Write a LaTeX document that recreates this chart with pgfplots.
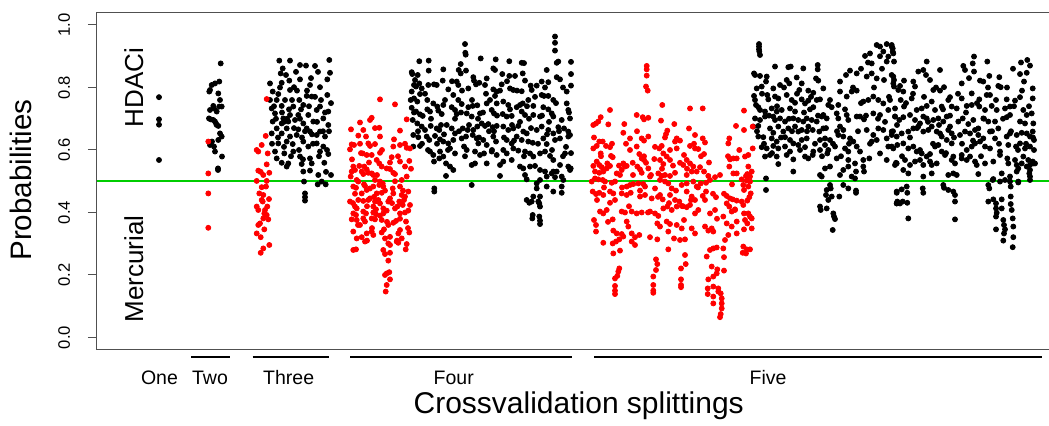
\documentclass[border=0pt]{standalone}
\usepackage{fontspec}
\setmainfont{Liberation Sans}
\usepackage{pgfplots}
\pgfplotsset{compat=1.18}
\definecolor{rgreen}{RGB}{0,205,0}
\definecolor{axgray}{RGB}{80,80,80}
\begin{document}
\begin{tikzpicture}
\useasboundingbox (-48.35pt,-38pt) rectangle (476.15pt,175pt);
\begin{axis}[
 at={(0,0)}, anchor=south west, scale only axis,
 width=476.15pt, height=168.75pt,
 xmin=96.7, xmax=1049, ymin=-0.04, ymax=1.04,
 axis line style={draw=none},
 xtick=\empty,
 ytick={0,0.2,0.4,0.6,0.8,1},
 yticklabels={0.0,0.2,0.4,0.6,0.8,1.0},
 ytick pos=left, tick align=outside, major tick length=4.35pt,
 major tick style={axgray, line width=0.5pt},
 yticklabel style={xshift=-9pt, rotate=90, anchor=base, font=\fontsize{8.3}{10}\selectfont, text=black},
 clip=false,
]
\addplot[rgreen, line width=1pt] coordinates {(96.7,0.5)(1049,0.5)};
% black series (HDACi predictions)
\addplot[only marks, mark=*, mark size=1.25pt, draw=black, fill=black] coordinates {
(159,0.769)(159,0.698)(159,0.681)(159,0.568)
(220.7,0.877)(219.3,0.819)(215,0.813)(211.7,0.808)(210,0.792)(209.3,0.787)(218.3,0.781)(220,0.760)(213.3,0.741)(219.3,0.739)(214,0.733)(221.7,0.739)(210,0.728)(216.7,0.723)(209,0.701)(210.7,0.698)(213.3,0.696)(215,0.691)(216,0.685)(216.7,0.680)(218.3,0.677)(220,0.653)(221.7,0.643)(218.3,0.632)(212,0.627)(210,0.616)(214,0.611)(215,0.595)(222,0.579)(218,0.541)(218,0.536)
(279.3,0.886)(290,0.886)(300,0.872)(315,0.869)(329.3,0.888)(330,0.847)(280.7,0.845)(282.7,0.861)(270,0.813)(281.7,0.815)(289.3,0.822)(300,0.826)(327.3,0.826)(272.7,0.787)(278.3,0.779)(290,0.792)(294,0.801)(310,0.808)(320,0.801)(327.3,0.776)(270,0.760)(276.7,0.760)(285,0.760)(299.3,0.760)(306.7,0.773)(311.7,0.771)(271.7,0.733)(281.7,0.741)(293.3,0.739)(303.3,0.744)(320,0.739)(328.3,0.723)(275,0.717)(283.3,0.701)(290,0.712)(298.3,0.712)(308.3,0.712)(316.7,0.728)(323.3,0.701)(272.7,0.691)(281.7,0.685)(288.3,0.691)(295,0.696)(303.3,0.685)(313.3,0.691)(328.3,0.680)(276.7,0.669)(286.7,0.669)(298.3,0.666)(306.7,0.669)(320,0.659)(271.7,0.653)(281.7,0.653)(290,0.643)(296.7,0.648)(310,0.659)(316.7,0.648)(325,0.643)(278.3,0.621)(286.7,0.627)(292.7,0.619)(303.3,0.627)(308.3,0.611)(316.7,0.621)(323.3,0.611)(275,0.595)(284.3,0.589)(293.3,0.595)(300,0.579)(310,0.573)(320,0.595)(328.3,0.587)(276.7,0.573)(281.7,0.559)(288.3,0.557)(301.7,0.555)(311.7,0.557)(324.3,0.559)(286.7,0.547)(303.3,0.531)(310,0.534)(318.3,0.520)(304,0.499)(321.7,0.499)(325.7,0.490)(317.7,0.490)(305,0.461)(305,0.449)(305,0.438)
(282,0.72)(287,0.70)(292,0.76)(297,0.79)(301,0.73)(305,0.66)(309,0.74)(313,0.62)(317,0.69)(321,0.76)(325,0.72)(329,0.66)(274,0.74)(278,0.64)(284,0.61)(289,0.73)(294,0.67)(299,0.60)(303,0.57)(307,0.79)(311,0.83)(315,0.77)(319,0.58)(323,0.66)(327,0.60)(331,0.75)(280,0.80)(296,0.85)(306,0.87)(318,0.85)(286,0.84)(276,0.70)(272,0.62)(300,0.70)(312,0.65)(326,0.53)(331,0.52)(284,0.69)(291,0.58)(302,0.64)
(465,0.939)(465.3,0.911)(465.7,0.905)(555,0.963)(555,0.943)(555,0.918)(556.7,0.879)(558.3,0.883)(419.3,0.884)(428.7,0.886)(480.7,0.893)(495.7,0.890)(509.3,0.884)(521.7,0.879)(524,0.878)(571,0.882)(460.7,0.875)
(411.7,0.849)(412.3,0.843)(417.7,0.840)(428.7,0.854)(443.3,0.858)(458.7,0.856)(460.7,0.845)(466,0.854)(473.3,0.833)(486.7,0.829)(493.3,0.861)(495,0.856)(502.3,0.843)(509.3,0.837)(515,0.837)(522.7,0.845)(525,0.822)(546.7,0.856)(571,0.843)(541.7,0.819)(548.3,0.817)(530.7,0.806)(536.7,0.806)(556.7,0.833)(560,0.826)
(415,0.824)(419.3,0.813)(421.7,0.797)(416,0.803)(414,0.808)(428.3,0.808)(436.7,0.808)(442.7,0.822)(456.7,0.819)(458.3,0.808)(468.3,0.797)(474,0.822)(479.3,0.815)(485,0.808)(493.3,0.794)(496.7,0.787)(501.7,0.810)(510,0.797)(513.3,0.792)(521.7,0.788)(531.7,0.792)(541.7,0.776)(544,0.773)(548.3,0.773)(553.3,0.760)(566.7,0.787)(571,0.806)
(411.7,0.787)(420,0.779)(427.3,0.760)(410.7,0.760)(414,0.765)(417.3,0.755)(433.3,0.749)(437.3,0.739)(443.3,0.744)(448.3,0.794)(453.3,0.776)(458.3,0.760)(461.7,0.747)(468.3,0.737)(472.7,0.741)(477.3,0.743)(486.7,0.749)(490,0.760)(495,0.773)(496.7,0.749)(503.3,0.755)(508.3,0.744)(516.7,0.737)(520,0.744)(522.7,0.749)(528.3,0.760)(533.3,0.741)(543.3,0.737)(548.3,0.730)(566.7,0.749)(568.3,0.728)
(411.7,0.735)(416,0.723)(420,0.714)(422.7,0.709)(427.3,0.730)(430,0.723)(438.3,0.726)(441.7,0.715)(451.7,0.737)(455,0.728)(456.7,0.715)(466.7,0.717)(471.7,0.707)(480,0.717)(491.7,0.728)(494,0.717)(502.7,0.715)(506.7,0.707)(511.7,0.709)(521.7,0.723)(525,0.712)(533.3,0.712)(540,0.707)(551.7,0.717)(553.3,0.707)(561.7,0.696)(570,0.701)
(412.7,0.696)(417.3,0.685)(421.7,0.675)(425,0.664)(430.7,0.677)(436.7,0.669)(439.3,0.664)(446.7,0.680)(451.7,0.669)(455,0.653)(462.7,0.669)(467.7,0.664)(473.3,0.664)(477.3,0.675)(481.7,0.685)(485,0.677)(488.3,0.683)(492.7,0.673)(496.7,0.677)(503.3,0.675)(508.3,0.664)(513.3,0.669)(518.3,0.677)(523.3,0.659)(526.7,0.653)(536.7,0.664)(541.7,0.675)(548.3,0.664)(553.3,0.653)(558.3,0.673)(564,0.669)(568.3,0.659)(570,0.648)
(413.3,0.648)(418.3,0.641)(426.7,0.643)(429.3,0.632)(435,0.645)(440,0.634)(443.3,0.627)(448.3,0.621)(453.3,0.632)(461.7,0.637)(466,0.643)(472.7,0.648)(476.7,0.637)(478.3,0.621)(483.3,0.632)(486.7,0.616)(493.3,0.643)(496,0.627)(506.7,0.632)(511.7,0.621)(516.7,0.643)(521.7,0.632)(528.3,0.627)(532.7,0.623)(543.3,0.637)(546.7,0.619)(555,0.632)(560,0.637)(568.3,0.643)
(413.3,0.611)(420,0.613)(430,0.595)(433.3,0.584)(440,0.595)(443.3,0.579)(450,0.605)(455,0.589)(464,0.611)(466.7,0.600)(475,0.595)(480,0.584)(484,0.589)(491.7,0.595)(496.7,0.584)(503.3,0.600)(506.7,0.589)(513.3,0.605)(518.3,0.598)(525,0.595)(530,0.589)(533.3,0.579)(540,0.589)(545,0.595)(550,0.581)(553.3,0.568)(565,0.589)
(434,0.563)(439.3,0.573)(446,0.557)(450,0.547)(453.3,0.536)(471.7,0.552)(475,0.557)(486.7,0.557)(500,0.552)(503.3,0.563)(511.7,0.568)(520,0.547)(523.3,0.541)(530,0.547)(535,0.549)(540,0.536)(545,0.531)(553.3,0.531)(556.7,0.531)(560,0.552)(568.3,0.547)(570,0.536)
(446,0.517)(500,0.517)(525,0.520)(526.7,0.506)(536.7,0.493)(540,0.504)(546.7,0.515)(551.7,0.525)(555,0.513)(561.7,0.515)(563.3,0.504)(570.7,0.541)
(434.3,0.477)(434.3,0.467)(471.7,0.488)(526.7,0.440)(529.3,0.431)(531.7,0.435)(539.3,0.429)(540,0.419)(538.3,0.435)(532.7,0.392)(532.3,0.381)(539.3,0.387)(540,0.374)(540,0.363)(533.3,0.451)(540,0.451)(553.3,0.467)(561.7,0.463)(561.7,0.483)(536.7,0.477)(546.7,0.483)
(414,0.72)(418,0.66)(422,0.62)(425,0.78)(431,0.70)(434,0.81)(437,0.62)(441,0.68)(445,0.76)(448,0.60)(452,0.82)(455,0.70)(459,0.66)(462,0.79)(465,0.58)(469,0.68)(472,0.76)(476,0.81)(479,0.64)(483,0.72)(486,0.78)(489,0.66)(492,0.60)(497,0.71)(500,0.79)(504,0.64)(507,0.82)(510,0.73)(514,0.63)(517,0.79)(520,0.69)(524,0.58)(527,0.74)(531,0.67)(535,0.77)(538,0.62)(542,0.71)(545,0.80)(549,0.69)(552,0.60)(556,0.75)(559,0.66)(563,0.80)(566,0.61)(569,0.72)(428,0.60)(444,0.65)(461,0.72)(478,0.70)(494,0.66)(512,0.68)(529,0.70)(547,0.65)(563,0.58)(571,0.59)
(759,0.939)(759,0.931)(759,0.922)(759.3,0.915)(760,0.904)(754,0.845)(755,0.840)(760,0.837)(766.7,0.835)(775,0.867)(788.3,0.865)(790.7,0.867)(803.3,0.861)(817.7,0.872)(817.7,0.858)(796.7,0.832)(816,0.829)(818.3,0.822)
(756.7,0.797)(761.7,0.803)(766,0.819)(773.3,0.797)(780,0.808)(786.7,0.824)(789.3,0.813)(801.7,0.813)(799.3,0.792)(808.3,0.790)(813.3,0.783)(823.3,0.797)
(754,0.773)(755,0.760)(756,0.744)(758.3,0.737)(767.3,0.776)(768.3,0.762)(775,0.771)(778.3,0.765)(786.7,0.776)(791.7,0.760)(795,0.751)(801.7,0.762)(805,0.749)(808.3,0.758)(816.7,0.760)(820,0.762)
(760,0.728)(765,0.723)(771.7,0.733)(776.7,0.723)(781.7,0.728)(790,0.733)(795,0.723)(810,0.730)(813.3,0.737)(823.3,0.712)(828.3,0.744)(831.7,0.737)
(755,0.701)(760,0.696)(765,0.707)(773.3,0.707)(775,0.696)(780,0.701)(785,0.691)(793.3,0.701)(798.3,0.696)(803.3,0.691)(806.7,0.701)(811.7,0.696)(816.7,0.691)(821.7,0.707)(826.7,0.701)(836.7,0.717)(838.3,0.701)
(753.3,0.675)(758.3,0.677)(770,0.669)(773.3,0.655)(778.3,0.675)(783.3,0.659)(788.3,0.669)(795,0.675)(798.3,0.659)(801.7,0.664)(808.3,0.675)(812.7,0.664)(819.3,0.659)(823.3,0.669)(840,0.675)(843.3,0.664)(848.3,0.696)
(758.3,0.643)(763.3,0.641)(771.7,0.637)(776.7,0.627)(785,0.641)(790,0.632)(793.3,0.621)(801.7,0.632)(806.7,0.637)(820,0.632)(825,0.637)(830,0.632)(838.3,0.648)(843.3,0.643)(850,0.637)(853.3,0.627)
(761.7,0.609)(766.7,0.605)(773.3,0.613)(778.3,0.605)(785,0.611)(790,0.595)(798.3,0.616)(805,0.609)(813.3,0.595)(820,0.600)(825,0.616)(828.3,0.600)(835,0.611)(845,0.605)(848.3,0.595)(856.7,0.611)(860,0.595)
(765,0.579)(770,0.584)(776.7,0.579)(778.3,0.555)(786.7,0.584)(793.3,0.570)(805,0.579)(808.3,0.573)(812.7,0.584)(827.3,0.589)(836.7,0.573)(848.3,0.568)(855,0.557)(863.3,0.568)(869.3,0.573)
(793.3,0.531)(820,0.520)(821.7,0.515)(825,0.541)(830,0.547)(840,0.520)(843.3,0.536)(848.3,0.547)(851.7,0.515)(855,0.509)(856,0.531)(863.3,0.547)(864,0.531)(766,0.509)
(766,0.472)(830,0.488)(830.7,0.477)(826.7,0.472)(826,0.456)(828.3,0.440)(820,0.419)(820.7,0.408)(826.7,0.413)(831.7,0.451)(833.3,0.397)(834,0.387)(835,0.379)(832.7,0.344)(839.3,0.451)(843.3,0.488)(848.3,0.477)(856,0.470)(856,0.463)
(870,0.909)(876.7,0.936)(880,0.931)(886.7,0.939)(891.7,0.931)(892.7,0.915)(888.3,0.899)(883.3,0.915)(886.7,0.883)(865,0.901)(871.7,0.877)(866.7,0.835)(871.7,0.845)(876.7,0.829)(884,0.824)(891.7,0.840)(856.7,0.845)(850,0.854)
(840,0.787)(846.7,0.771)(851.7,0.787)(856.7,0.790)(863.3,0.755)(868.3,0.760)(873.3,0.771)(878.3,0.760)(883.3,0.749)(893.3,0.813)(894,0.803)(888.3,0.728)(895,0.707)(873.3,0.717)(880,0.712)
(866.7,0.664)(873.3,0.648)(878.3,0.669)(883.3,0.664)(886.7,0.637)(891.7,0.648)(871.7,0.627)(876.7,0.632)(888.3,0.611)(893.3,0.605)(880,0.589)(886.7,0.568)(896,0.559)(896.7,0.467)(896.7,0.429)(897.3,0.435)(895,0.552)
(840,0.819)(838.3,0.744)(846.7,0.712)(856.7,0.707)(860,0.707)(864,0.698)
(757,0.66)(762,0.78)(764,0.62)(769,0.71)(772,0.59)(777,0.74)(781,0.64)(784,0.80)(789,0.70)(792,0.66)(797,0.78)(800,0.60)(804,0.72)(807,0.66)(811,0.77)(815,0.62)(818,0.71)(822,0.58)(826,0.67)(830,0.76)(833,0.62)(837,0.66)(841,0.58)(845,0.73)(849,0.62)(853,0.80)(858,0.66)(861,0.75)(866,0.71)(870,0.62)(874,0.80)(878,0.70)(882,0.86)(885,0.69)(889,0.77)(893,0.66)(861,0.86)(868,0.88)(880,0.90)(846,0.84)
(891.7,0.936)(892.7,0.925)(893.3,0.909)(894,0.883)(893.3,0.835)(894,0.824)(926.7,0.883)(923.3,0.856)(926,0.840)(930,0.824)(940,0.856)(918.3,0.851)(913.3,0.819)(915,0.803)
(904,0.822)(900,0.805)(898.3,0.792)(903.3,0.787)(933.3,0.792)(940,0.790)(944,0.801)(950,0.769)(961.7,0.813)(963.3,0.869)(965,0.856)(972.7,0.877)(974,0.899)(974,0.851)
(980,0.822)(983.3,0.819)(987.3,0.883)(989.3,0.837)(999.3,0.833)(1000.7,0.801)(998.3,0.805)(1020,0.843)(1027.3,0.888)(1026.7,0.847)(1024,0.819)(1032.7,0.797)
(986.7,0.776)(990,0.776)(961.7,0.765)(971.7,0.781)(979.3,0.762)(1006.7,0.762)(1015,0.758)(1020,0.769)(1032.7,0.765)
(890,0.760)(895,0.733)(900.7,0.760)(904,0.739)(911.7,0.765)(916.7,0.728)(921.7,0.733)(926.7,0.741)(931.7,0.755)(935,0.728)(941.7,0.739)(948.3,0.760)(951.7,0.739)(956.7,0.733)(966.7,0.741)(971.7,0.744)(979.3,0.739)(985,0.728)(991.7,0.741)(996.7,0.728)(1005,0.733)(1010,0.739)(1023.3,0.728)(1026.7,0.712)(1031.7,0.717)
(895,0.707)(899.3,0.696)(903.3,0.705)(910,0.712)(915,0.696)(920,0.685)(923.3,0.707)(926.7,0.701)(933.3,0.696)(938.3,0.701)(943.3,0.691)(946.7,0.707)(950,0.675)(958.3,0.691)(962.7,0.701)(968.3,0.683)(973.3,0.696)(978.3,0.669)(983.3,0.701)(988.3,0.691)(995,0.691)(998.3,0.669)(1006.7,0.705)(1010,0.712)(1020,0.691)(1025,0.685)(1033.3,0.685)(1032.7,0.659)
(891.7,0.659)(896.7,0.643)(901.7,0.653)(908.3,0.659)(913.3,0.669)(918.3,0.675)(923.3,0.659)(928.3,0.664)(931.7,0.675)(936.7,0.659)(940,0.653)(941.7,0.643)(948.3,0.664)(951.7,0.653)(960,0.648)(965,0.659)(970,0.653)(975,0.664)(978.3,0.648)(983.3,0.637)(990,0.659)(995,0.637)(1006.7,0.643)(1010,0.653)(1016.7,0.648)(1021.7,0.655)(1026.7,0.653)(1030,0.643)(1034,0.632)
(891.7,0.611)(897.3,0.616)(903.3,0.621)(908.3,0.605)(913.3,0.611)(916.7,0.595)(921.7,0.589)(926.7,0.579)(930,0.587)(935,0.611)(938.3,0.616)(946.7,0.632)(951.7,0.621)(961.7,0.584)(966.7,0.600)(971.7,0.611)(975,0.621)(980,0.627)(985,0.611)(990,0.605)(1000,0.595)(1008.3,0.616)(1016,0.611)(1020,0.621)(1025,0.605)(1030,0.611)(1034,0.600)
(896.7,0.557)(905,0.568)(910,0.552)(915,0.563)(920,0.568)(923.3,0.552)(930,0.563)(931.7,0.552)(936.7,0.557)(941.7,0.595)(945,0.584)(953.3,0.579)(955,0.557)(951.7,0.568)(961.7,0.573)(966.7,0.568)(970,0.579)(975,0.563)(976.7,0.552)(985,0.557)(993.3,0.563)(1000,0.584)(1007.3,0.573)(1008.3,0.557)(1015,0.568)(1016.7,0.552)(1021.7,0.557)(1023.3,0.579)(1028.3,0.568)(1030,0.552)(1032.7,0.563)(1035,0.557)(1030,0.536)
(903.3,0.536)(908.3,0.525)(923.3,0.515)(931.7,0.525)(948.3,0.520)(953.3,0.525)(956.7,0.520)(978.3,0.523)(1016.7,0.531)(1018.3,0.541)(1026.7,0.547)(1029.3,0.525)(1030,0.515)(1030,0.504)(1001.7,0.525)(1010,0.515)(993.3,0.507)(1000,0.499)(1005,0.504)(1010,0.499)(1018.3,0.499)
(896.7,0.463)(901.7,0.474)(906.7,0.483)(907.3,0.463)(902.7,0.435)(896.7,0.429)(900,0.429)(907.3,0.431)(908.3,0.381)(922.7,0.477)(923.3,0.463)(943.3,0.488)(944,0.479)(948.3,0.472)(953.3,0.467)(955,0.456)(955,0.435)(955,0.378)
(988.3,0.488)(989.3,0.477)(992.7,0.504)(988.3,0.435)(993.3,0.442)(996,0.429)(996,0.413)(996.7,0.399)(996,0.387)(996,0.346)(1001.7,0.442)(1001.7,0.413)(1003.3,0.376)(1004,0.360)(1005,0.346)(1004,0.333)(1003.3,0.310)
(1010.7,0.483)(1010.7,0.451)(1010.7,0.427)(1011.7,0.408)(1012.7,0.381)(1013.3,0.355)(1013.3,0.321)(1012.7,0.289)(1018.3,0.496)(1033.3,0.557)
(897,0.68)(902,0.58)(906,0.75)(910,0.64)(913,0.78)(917,0.67)(920,0.60)(924,0.77)(928,0.69)(933,0.62)(936,0.80)(939,0.68)(943,0.73)(946,0.59)(950,0.71)(954,0.64)(958,0.78)(962,0.62)(966,0.72)(969,0.83)(973,0.63)(977,0.75)(981,0.58)(984,0.70)(988,0.80)(992,0.66)(996,0.76)(999,0.62)(1003,0.70)(1007,0.80)(1011,0.66)(1014,0.74)(1018,0.60)(1022,0.79)(1026,0.62)(1029,0.74)(1033,0.64)(1013,0.86)(1030,0.87)(1021,0.88)
};
% red series (Mercurial predictions)
\addplot[only marks, mark=*, mark size=1.25pt, draw=red, fill=red] coordinates {
(208.3,0.627)(208.3,0.525)(208.3,0.461)(208.3,0.351)
(266.7,0.763)(265.7,0.645)(261.7,0.616)(256.7,0.600)(258.3,0.595)(267.7,0.589)(266.7,0.554)(258.3,0.534)(260.7,0.530)(269.3,0.527)(263.3,0.520)(256.7,0.501)(266.7,0.501)(261.7,0.481)(266,0.483)(259.3,0.461)(263.3,0.456)(269,0.443)(262.7,0.435)(256.7,0.419)(258.3,0.408)(265,0.408)(266.7,0.392)(263.3,0.381)(268.3,0.378)(260,0.365)(264.3,0.346)(256.7,0.333)(260.7,0.321)(269.3,0.296)(263.3,0.285)(260.7,0.271)(261.7,0.440)(264.3,0.397)(258.3,0.360)(267.3,0.419)
(380,0.762)(395,0.746)(370,0.696)(371.7,0.703)(360,0.688)(351,0.666)(363.3,0.664)(379.3,0.671)(400,0.662)(406.7,0.698)(358.3,0.646)(366,0.643)(380,0.643)(394,0.634)(351.7,0.618)(354,0.616)(350,0.602)(368.3,0.621)(375,0.619)(370,0.613)(393.3,0.611)(400,0.616)(406.7,0.607)(410,0.605)
(362.7,0.589)(366.7,0.584)(371.7,0.584)(380,0.591)(391.7,0.577)(376.7,0.568)(379.3,0.557)(381.7,0.547)(400,0.563)(409.3,0.565)(353.3,0.547)(359.3,0.549)(364.3,0.547)(366.7,0.538)(386.7,0.541)(390,0.539)(405,0.547)
(351.7,0.531)(355,0.536)(361.7,0.531)(363.3,0.523)(368.3,0.527)(371.7,0.525)(373.3,0.520)(393.3,0.527)(395,0.523)(375,0.504)(380,0.499)(350.7,0.515)(356.7,0.504)(358.3,0.499)(401.7,0.504)(406.7,0.515)
(353.3,0.483)(356,0.479)(365,0.485)(370,0.477)(373.3,0.483)(379.3,0.488)(382.7,0.493)(383.3,0.483)(400,0.483)(392.7,0.477)(361.7,0.461)(366.7,0.472)(376.7,0.461)(381.7,0.463)(393.3,0.461)(401.7,0.456)(405,0.451)(408.3,0.467)
(350,0.435)(358.3,0.440)(363.3,0.437)(368.3,0.440)(370,0.445)(375,0.435)(380,0.429)(378.3,0.440)(388.3,0.435)(390,0.445)(399.3,0.435)(401.7,0.429)(404,0.440)(402.7,0.424)(410,0.424)
(355,0.419)(356.7,0.413)(373.3,0.419)(376,0.410)(383.3,0.413)(386.7,0.406)(395,0.413)(397.3,0.419)(353.3,0.397)(356,0.392)(363.3,0.403)(366,0.397)(373.3,0.400)(376,0.394)(383.3,0.397)(400,0.397)(405,0.400)(408.3,0.406)
(351.7,0.378)(356.7,0.376)(363.3,0.381)(365,0.371)(371.7,0.381)(375,0.378)(381.7,0.376)(393.3,0.367)(396,0.373)(406,0.371)(360,0.360)(388.3,0.360)
(353.3,0.339)(366.7,0.333)(371.7,0.339)(373.3,0.328)(381.7,0.336)(384,0.346)(398.3,0.333)(400,0.344)(409.3,0.336)(356.7,0.317)(361.7,0.321)(385,0.317)(390,0.322)(401.7,0.317)(365,0.307)(388.3,0.301)(390,0.296)(396.7,0.307)(398.3,0.303)(406.7,0.299)
(353.3,0.280)(356,0.282)(383.3,0.280)(385,0.267)(390,0.271)(405.7,0.282)(388.3,0.246)(386.7,0.205)(389.3,0.209)(385,0.200)(390,0.186)(386.7,0.168)(385.7,0.147)
(352,0.57)(355,0.46)(358,0.36)(361,0.59)(364,0.49)(367,0.42)(369,0.56)(372,0.35)(374,0.45)(377,0.52)(380,0.39)(382,0.60)(385,0.47)(387,0.37)(390,0.56)(392,0.43)(395,0.50)(398,0.58)(400,0.38)(403,0.47)(405,0.62)(408,0.35)(411,0.54)(360,0.62)(375,0.67)(397,0.31)(353,0.43)(367,0.31)
(646.7,0.869)(646.7,0.858)(646.7,0.838)(646,0.803)(647.7,0.790)(610,0.728)(593.3,0.680)(596,0.685)(598.3,0.691)(600.7,0.705)(608.3,0.682)(636.7,0.712)(642.7,0.705)(644,0.698)(648.3,0.703)(662.3,0.744)(661,0.694)(690,0.733)(702.7,0.733)(624.3,0.683)(667.3,0.662)(666,0.651)(674.3,0.683)(689,0.669)(736,0.677)
(623.3,0.655)(630,0.637)(641.7,0.637)(644,0.630)(648.3,0.643)(676.7,0.637)(675,0.627)(695,0.648)(702.7,0.637)(705,0.624)(729.3,0.637)(728.3,0.621)(739.3,0.600)
(593.3,0.605)(596.7,0.613)(599.3,0.627)(602.7,0.627)(606,0.613)(610,0.609)(630,0.600)(636.7,0.611)(659.3,0.605)(661.7,0.613)(663.3,0.589)(670,0.600)(676.7,0.605)(684,0.584)(686.7,0.568)(690,0.613)(695,0.605)(698.3,0.603)(704,0.587)
(611,0.581)(612.7,0.577)(600.7,0.589)(639.3,0.587)(641.7,0.573)(644,0.568)(654.3,0.571)(666.7,0.579)(670,0.568)(730,0.570)(733.3,0.573)(736.7,0.573)
(593.3,0.549)(596.7,0.563)(599.3,0.552)(601.7,0.545)(607.3,0.557)(610,0.549)(623.3,0.557)(626.7,0.549)(632.7,0.559)(637.3,0.547)(640,0.538)(646,0.559)(648.3,0.541)(660,0.568)(663.3,0.555)(680,0.559)(683.3,0.552)(690,0.557)(693.3,0.547)(696.7,0.531)(700,0.545)(704,0.531)(729.3,0.547)(733.3,0.525)(736.7,0.525)
(595,0.531)(599.3,0.527)(603.3,0.531)(606.7,0.541)(616.7,0.525)(620,0.520)(621.7,0.536)(625,0.547)(641.7,0.527)(650,0.515)(658.3,0.525)(661.7,0.517)(665,0.520)(670,0.517)(675,0.527)(686.7,0.520)(691.7,0.531)(708.3,0.517)(715,0.513)
(591.7,0.499)(595,0.509)(598.3,0.506)(602.7,0.504)(605,0.499)(611.7,0.495)(615,0.499)(626.7,0.483)(630,0.488)(633.3,0.491)(638.3,0.493)(643.3,0.491)(645,0.483)(655,0.477)(660,0.504)(665,0.499)(668.3,0.493)(671.7,0.477)(681.7,0.488)(686.7,0.493)(693.3,0.499)(696.7,0.483)(700.7,0.493)(706,0.495)(710,0.504)
(592.7,0.467)(596,0.459)(599.3,0.463)(603.3,0.456)(610,0.467)(613.3,0.461)(621.7,0.461)(626.7,0.456)(630.7,0.463)(640,0.451)(645,0.456)(651.7,0.445)(660,0.456)(662.7,0.442)(670,0.456)(675,0.440)(679.3,0.435)(686.7,0.467)(691.7,0.451)(695,0.440)(702.7,0.453)(706,0.467)(716,0.449)(726.7,0.453)(730,0.445)(732.7,0.442)(736.7,0.438)
(610,0.431)(600,0.403)(603.3,0.397)(606.7,0.408)(621.7,0.403)(625,0.400)(631.7,0.403)(636.7,0.397)(641.7,0.400)(650,0.403)(655,0.397)(658.3,0.389)(663.3,0.413)(667.3,0.419)(671.7,0.408)(676.7,0.419)(681.7,0.421)(686.7,0.417)(690,0.424)(695,0.397)(698.3,0.408)(710,0.397)(715,0.408)(726.7,0.429)(729.3,0.419)(731.7,0.403)(735,0.408)
(594,0.376)(596,0.360)(612.7,0.378)(626.7,0.371)(628.3,0.355)(657.3,0.365)(660,0.355)(666.7,0.371)(670,0.363)(676.7,0.360)(681.7,0.349)(684,0.376)(705,0.355)(708.3,0.342)(711.7,0.349)(723.3,0.387)(726.7,0.365)(731.7,0.355)(736.7,0.371)
(596,0.339)(613.3,0.342)(616.7,0.333)(621.7,0.331)(623.3,0.323)(631.7,0.333)(635,0.321)(639.3,0.328)(650,0.321)(657.3,0.314)(668.3,0.339)(674,0.317)(680,0.312)(685,0.314)(691.7,0.349)(695,0.333)(713.3,0.339)(725,0.312)(728.3,0.328)(736.7,0.333)
(603.3,0.303)(612.7,0.301)(616,0.307)(619.3,0.314)(613.3,0.269)(620,0.278)(631.7,0.307)(635,0.296)(668.3,0.282)(710,0.280)(713.3,0.285)(716.7,0.288)(706.7,0.259)(724,0.257)(723.3,0.285)(685,0.264)(656,0.250)(657.3,0.235)
(619.3,0.221)(618.3,0.211)(617.3,0.197)(615,0.189)(615,0.165)(615,0.150)(615,0.139)(656,0.216)(653.3,0.195)(653.3,0.168)(653.3,0.150)(653.3,0.143)(685.7,0.235)(681,0.221)(681,0.186)(681,0.168)(681,0.161)
(711.7,0.227)(716.7,0.205)(708.3,0.186)(707.7,0.157)(707.7,0.139)(713.3,0.163)(713.3,0.131)(713.3,0.109)(718.3,0.157)(718.3,0.147)(720.7,0.141)(721.7,0.125)(721.7,0.109)(721.7,0.093)(720.7,0.075)(720,0.065)(717.3,0.218)(724,0.214)(713.3,0.195)
(594,0.64)(597,0.44)(601,0.58)(604,0.48)(608,0.37)(612,0.62)(615,0.44)(619,0.55)(622,0.48)(626,0.62)(629,0.42)(633,0.52)(637,0.66)(640,0.47)(644,0.58)(648,0.40)(651,0.52)(655,0.61)(658,0.45)(662,0.54)(665,0.64)(669,0.43)(673,0.55)(676,0.47)(680,0.63)(683,0.42)(687,0.54)(691,0.44)(694,0.62)(698,0.48)(701,0.58)(705,0.44)(709,0.56)(713,0.46)(717,0.38)(720,0.52)(724,0.46)(728,0.58)(732,0.49)(735,0.41)
(744,0.726)(744,0.664)(752.7,0.675)(752.7,0.605)(748.3,0.584)(745,0.579)(748.3,0.547)(751.7,0.531)(746,0.517)(741.7,0.506)(746.7,0.502)(750,0.499)(743.3,0.488)(748.3,0.483)(744,0.472)(750.7,0.461)(749.3,0.449)(747.3,0.438)(741.7,0.435)(743.3,0.424)(748.3,0.397)(750,0.387)(751.7,0.381)(745,0.376)(744,0.346)(751.7,0.349)(743.3,0.291)(746.7,0.282)(750,0.282)(746,0.269)(742.7,0.271)(747.3,0.523)(750,0.515)(744,0.397)(747.3,0.365)
};
% plot frame (left, top, bottom)
\draw[axgray, line width=0.5pt] (rel axis cs:1,1) -- (rel axis cs:0,1) -- (rel axis cs:0,0) -- (rel axis cs:1,0);
% group bars under the axis
\draw[black, line width=0.9pt] (axis cs:191,-0.0614) -- (axis cs:230,-0.0614);
\draw[black, line width=0.9pt] (axis cs:252.7,-0.0614) -- (axis cs:329,-0.0614);
\draw[black, line width=0.9pt] (axis cs:350,-0.0614) -- (axis cs:572,-0.0614);
\draw[black, line width=0.9pt] (axis cs:594,-0.0614) -- (axis cs:1042,-0.0614);
\end{axis}
\begin{scope}[every node/.style={inner sep=0pt}]
\node[rotate=90, anchor=base, font=\fontsize{14.8}{17}\selectfont] at (-32.35pt,85pt) {Probabilities};
\node[rotate=90, anchor=base, font=\fontsize{13}{15}\selectfont] at (23.15pt,131.25pt) {HDACi};
\node[rotate=90, anchor=base, font=\fontsize{13}{15}\selectfont] at (23.15pt,40.5pt) {Mercurial};
\node[anchor=base, font=\fontsize{9.75}{11}\selectfont] at (31.4pt,-17.5pt) {One};
\node[anchor=base, font=\fontsize{9.75}{11}\selectfont] at (56.65pt,-17.5pt) {Two};
\node[anchor=base, font=\fontsize{9.75}{11}\selectfont] at (95.99pt,-17.5pt) {Three};
\node[anchor=base, font=\fontsize{9.75}{11}\selectfont] at (178.5pt,-17.5pt) {Four};
\node[anchor=base, font=\fontsize{9.75}{11}\selectfont] at (335.65pt,-17.5pt) {Five};
\node[anchor=base, font=\fontsize{15}{18}\selectfont] at (241pt,-32pt) {Crossvalidation splittings};
\end{scope}
\end{tikzpicture}
\end{document}
